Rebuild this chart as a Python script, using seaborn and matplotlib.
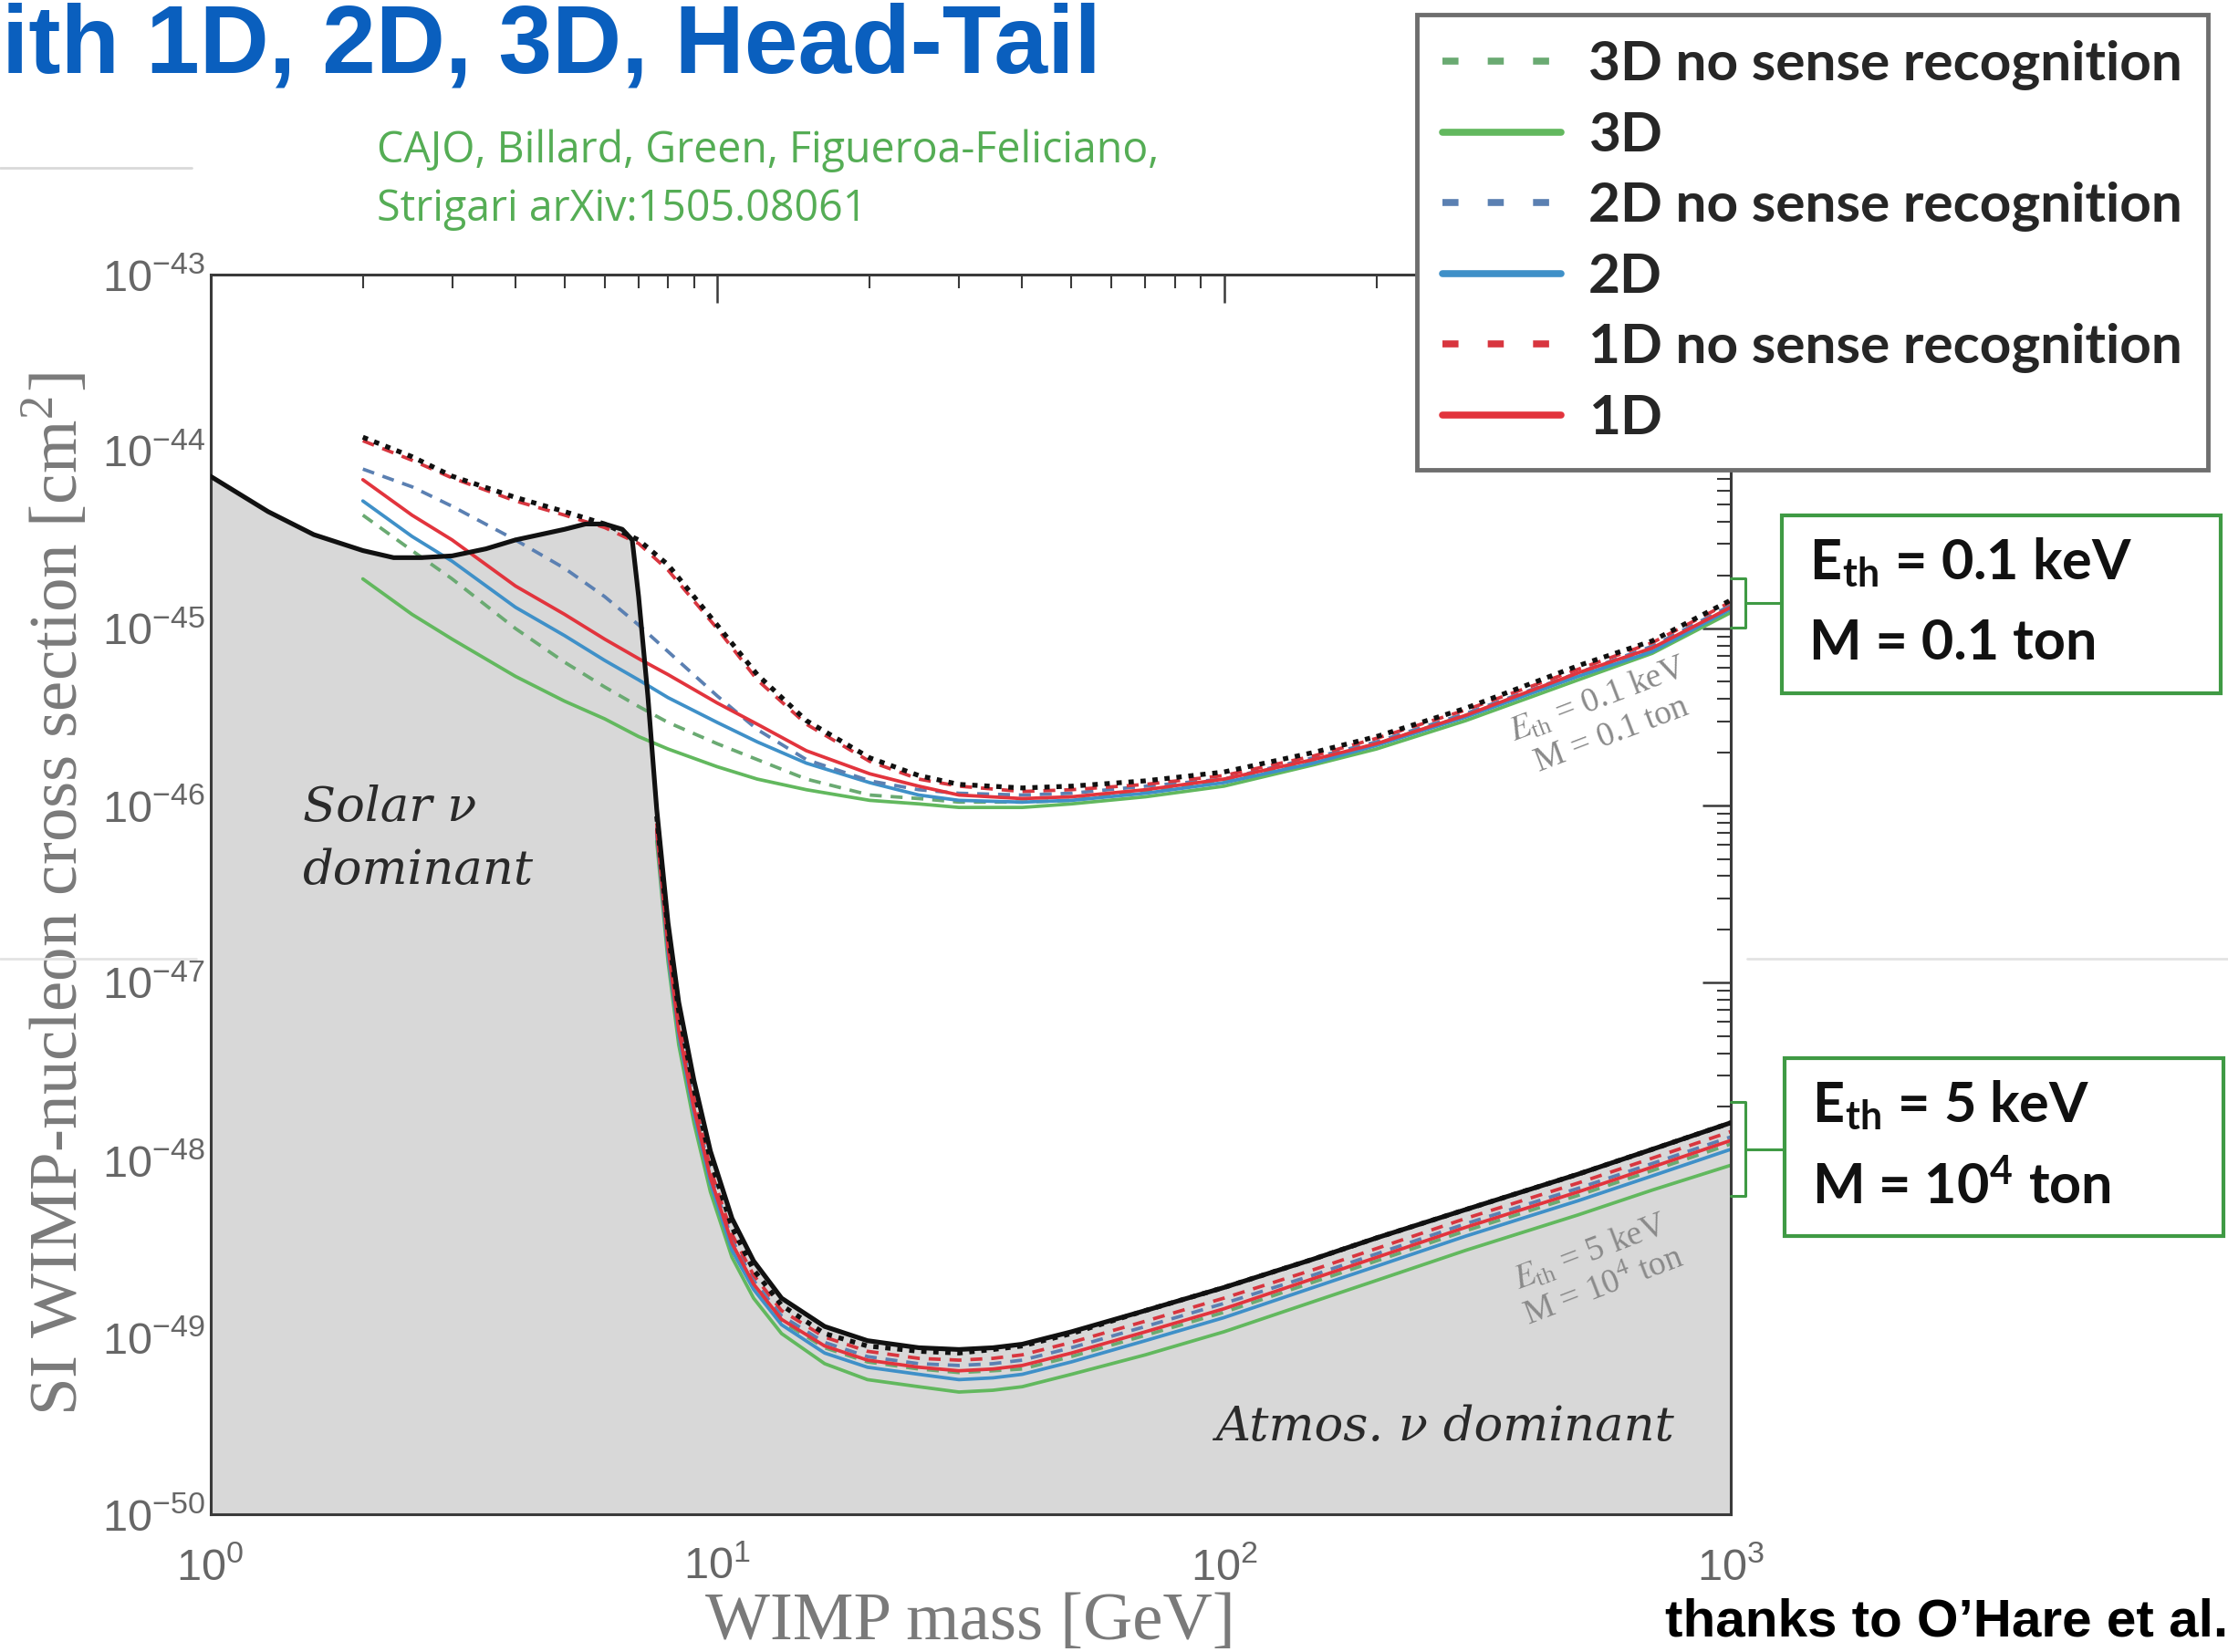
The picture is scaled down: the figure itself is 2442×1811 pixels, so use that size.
import numpy as np
import matplotlib
matplotlib.use("Agg")
import matplotlib.pyplot as plt
import seaborn as sns
from matplotlib.lines import Line2D
from matplotlib.patches import Rectangle
from matplotlib.ticker import FixedLocator, LogLocator, NullFormatter

# ---- data (mass in GeV, log10 of cross section in cm^2) ----
mass_up = [2, 2.5, 3, 4, 5, 6, 7, 8, 10, 12, 15, 20, 25, 30, 40, 50, 70, 100, 150, 200, 300, 500, 700, 1000]
mass_lo = [7.6, 8, 8.4, 9, 9.7, 10.7, 11.8, 13.4, 16.3, 19.8, 25, 30, 35, 40, 50, 70, 100, 150, 200, 300, 500, 700, 1000]
mass_floor = [1, 1.3, 1.6, 2, 2.3, 2.6, 3, 3.5, 4, 5, 5.5, 6, 6.5, 6.8, 7, 7.3, 7.6, 8, 8.4, 9, 9.7, 10.7,
              11.8, 13.4, 16.3, 19.8, 25, 30, 35, 40, 50, 70, 100, 150, 200, 300, 500, 700, 1000]

# neutrino floor (black solid, grey shading below it)
floor = [-44.14, -44.34, -44.47, -44.56, -44.60, -44.60, -44.59, -44.55, -44.50, -44.44, -44.41, -44.41,
         -44.44, -44.50, -44.82, -45.38, -46.02, -46.66, -47.11, -47.55, -47.95, -48.33, -48.57, -48.78,
         -48.94, -49.02, -49.06, -49.07, -49.06, -49.04, -48.97, -48.85, -48.72, -48.56, -48.44, -48.28,
         -48.08, -47.94, -47.79]

# E_th = 0.1 keV, M = 0.1 ton
nondir_up = [-43.92, -44.03, -44.14, -44.26, -44.34, -44.41, -44.50, -44.64, -44.98, -45.26, -45.52, -45.73,
             -45.83, -45.88, -45.90, -45.89, -45.86, -45.81, -45.70, -45.61, -45.45, -45.21, -45.07, -44.84]
d1_nsr_up = [-43.94, -44.05, -44.15, -44.28, -44.36, -44.43, -44.52, -44.67, -45.00, -45.29, -45.54, -45.75,
             -45.85, -45.89, -45.92, -45.91, -45.88, -45.83, -45.72, -45.62, -45.46, -45.23, -45.08, -44.85]
d2_nsr_up = [-44.10, -44.20, -44.31, -44.50, -44.66, -44.82, -44.98, -45.13, -45.38, -45.57, -45.74, -45.86,
             -45.91, -45.93, -45.94, -45.93, -45.89, -45.85, -45.73, -45.64, -45.48, -45.25, -45.10, -44.87]
d3_nsr_up = [-44.36, -44.56, -44.72, -45.00, -45.19, -45.33, -45.44, -45.53, -45.65, -45.74, -45.85, -45.94,
             -45.96, -45.98, -45.98, -45.97, -45.92, -45.86, -45.75, -45.65, -45.49, -45.26, -45.12, -44.88]
d1_up = [-44.16, -44.36, -44.50, -44.76, -44.92, -45.06, -45.17, -45.26, -45.42, -45.54, -45.69, -45.82,
         -45.89, -45.94, -45.96, -45.95, -45.91, -45.85, -45.74, -45.65, -45.49, -45.25, -45.11, -44.88]
d2_up = [-44.28, -44.48, -44.62, -44.88, -45.04, -45.18, -45.29, -45.39, -45.53, -45.64, -45.76, -45.87,
         -45.94, -45.97, -45.98, -45.97, -45.93, -45.87, -45.76, -45.66, -45.50, -45.27, -45.13, -44.89]
d3_up = [-44.72, -44.92, -45.06, -45.27, -45.41, -45.51, -45.61, -45.68, -45.78, -45.85, -45.91, -45.97,
         -45.99, -46.01, -46.01, -45.99, -45.95, -45.89, -45.77, -45.68, -45.52, -45.29, -45.14, -44.91]

# E_th = 5 keV, M = 10^4 ton
nondir_lo = [-46.06, -46.71, -47.16, -47.60, -48.00, -48.38, -48.62, -48.82, -48.98, -49.05, -49.08, -49.09,
             -49.07, -49.05, -48.98, -48.85, -48.72, -48.56, -48.44, -48.28, -48.08, -47.94, -47.79]
d1_nsr_lo = [-46.10, -46.76, -47.21, -47.65, -48.05, -48.42, -48.65, -48.85, -49.00, -49.08, -49.12, -49.13,
             -49.12, -49.10, -49.03, -48.91, -48.78, -48.62, -48.50, -48.33, -48.13, -47.99, -47.84]
d1_lo = [-46.14, -46.80, -47.27, -47.71, -48.10, -48.47, -48.70, -48.90, -49.05, -49.13, -49.17, -49.19,
         -49.18, -49.16, -49.09, -48.97, -48.84, -48.67, -48.55, -48.38, -48.18, -48.04, -47.89]
d2_nsr_lo = [-46.12, -46.78, -47.24, -47.68, -48.08, -48.45, -48.68, -48.88, -49.03, -49.11, -49.15, -49.16,
             -49.15, -49.13, -49.06, -48.94, -48.81, -48.65, -48.53, -48.36, -48.16, -48.02, -47.87]
d2_lo = [-46.16, -46.84, -47.30, -47.74, -48.13, -48.51, -48.73, -48.93, -49.09, -49.17, -49.21, -49.24,
         -49.23, -49.21, -49.14, -49.02, -48.89, -48.72, -48.60, -48.43, -48.23, -48.09, -47.94]
d3_nsr_lo = [-46.15, -46.81, -47.27, -47.71, -48.11, -48.48, -48.71, -48.91, -49.06, -49.14, -49.18, -49.20,
             -49.19, -49.18, -49.11, -48.99, -48.86, -48.69, -48.57, -48.40, -48.20, -48.06, -47.91]
d3_lo = [-46.20, -46.88, -47.35, -47.79, -48.18, -48.55, -48.78, -48.98, -49.15, -49.24, -49.28, -49.31,
         -49.30, -49.28, -49.21, -49.10, -48.97, -48.80, -48.68, -48.51, -48.31, -48.17, -48.03]

x_ticks = [1, 10, 100, 1000]
y_ticks = [1e-50, 1e-49, 1e-48, 1e-47, 1e-46, 1e-45, 1e-44, 1e-43]
legend_labels = ["3D no sense recognition", "3D", "2D no sense recognition", "2D",
                 "1D no sense recognition", "1D"]

# colours / styles
GREEN_D, GREEN = "#6aaa72", "#62b85e"
BLUE_D, BLUE = "#5b80b2", "#3f90c8"
RED_D, RED = "#d8363f", "#e2343d"
BOX_GREEN = "#3f9a44"
DASH = (0, (3.5, 2.6))
LEG_DASH = (0, (2.3, 4.2))

W, H = 2442, 1811
sns.set_style("white")
plt.rcParams["font.family"] = ["Liberation Sans", "DejaVu Sans"]
plt.rcParams["mathtext.fontset"] = "stix"

fig = plt.figure(figsize=(W / 100, H / 100), dpi=100)
ax = fig.add_axes([230.5 / W, 1 - 1660 / H, (1897 - 230.5) / W, (1660 - 300.6) / H])
ax.set_xscale("log")
ax.set_yscale("log")


def sig(v):
    return np.power(10.0, v)


# grey region under the neutrino floor
ax.fill_between(mass_floor, sig(floor), 1e-50, color="#d8d8d8", lw=0, zorder=1)

series = [
    (mass_up, d3_up, GREEN, "-"), (mass_up, d3_nsr_up, GREEN_D, DASH),
    (mass_up, d2_up, BLUE, "-"), (mass_up, d2_nsr_up, BLUE_D, DASH),
    (mass_up, d1_up, RED, "-"), (mass_up, d1_nsr_up, RED_D, DASH),
    (mass_lo, d3_lo, GREEN, "-"), (mass_lo, d3_nsr_lo, GREEN_D, DASH),
    (mass_lo, d2_lo, BLUE, "-"), (mass_lo, d2_nsr_lo, BLUE_D, DASH),
    (mass_lo, d1_lo, RED, "-"), (mass_lo, d1_nsr_lo, RED_D, DASH),
]
for m, v, c, ls in series:
    sns.lineplot(x=m, y=sig(v), ax=ax, color=c, linestyle=ls, lw=2.7, zorder=2)

for m, v in [(mass_up, nondir_up), (mass_lo, nondir_lo)]:
    sns.lineplot(x=m, y=sig(v), ax=ax, color="#111111", linestyle=(0, (1.1, 1.4)),
                 lw=3.8, zorder=3)
sns.lineplot(x=mass_floor, y=sig(floor), ax=ax, color="#111111", lw=3.7, zorder=4)

ax.set_xlim(1, 1000)
ax.set_ylim(1e-50, 1e-43)

# ticks, spines
ax.xaxis.set_major_locator(FixedLocator(x_ticks))
ax.xaxis.set_minor_locator(LogLocator(base=10, subs=np.arange(2, 10), numticks=20))
ax.yaxis.set_major_locator(FixedLocator(y_ticks))
ax.yaxis.set_minor_locator(LogLocator(base=10, subs=np.arange(2, 10), numticks=40))
ax.xaxis.set_minor_formatter(NullFormatter())
ax.yaxis.set_minor_formatter(NullFormatter())
ax.tick_params(which="both", direction="in", top=True, right=True, color="#3a3a3a",
               labelcolor="#666666", labelsize=35)
ax.tick_params(which="major", length=22, width=1.8)
ax.tick_params(which="minor", length=11, width=1.5)
ax.tick_params(axis="x", which="major", pad=26)
ax.tick_params(axis="y", which="major", pad=4)
for sp in ax.spines.values():
    sp.set_linewidth(2.2)
    sp.set_color("#3a3a3a")

ax.set_xlabel("WIMP mass [GeV]", family="Liberation Serif", size=54, color="#7a7a7a")
ax.set_ylabel("SI WIMP-nucleon cross section [cm$^{\\mathdefault{2}}$]",
              family="Liberation Serif", size=54, color="#7a7a7a")
ax.xaxis.set_label_coords(0.5, -0.063)
ax.yaxis.set_label_coords(-0.078, 0.5)

# in-plot annotations
ax.text(1.52, sig(-46.19), "Solar \u03bd\ndominant", family="DejaVu Serif", style="italic",
        size=38, color="#2a2a2a", ha="left", va="center", linespacing=1.45, zorder=5)
ax.text(772, sig(-49.51), "Atmos. \u03bd dominant", family="DejaVu Serif", style="italic",
        size=38, color="#2a2a2a", ha="right", va="center", zorder=5)
ax.text(565, sig(-45.50), "$E_{\\mathdefault{th}}$ = 0.1 keV\nM = 0.1 ton",
        family="Liberation Serif", size=27, color="#8a8a8a", rotation=21,
        ha="center", va="center", rotation_mode="anchor", zorder=5)
ax.text(545, sig(-48.62), "$E_{\\mathdefault{th}}$ = 5 keV\nM = 10$^{\\mathdefault{4}}$ ton",
        family="Liberation Serif", size=27, color="#8a8a8a", rotation=21,
        ha="center", va="center", rotation_mode="anchor", zorder=5)

# legend
handles = [
    Line2D([], [], color=GREEN_D, lw=5.5, ls=LEG_DASH),
    Line2D([], [], color=GREEN, lw=5.5),
    Line2D([], [], color=BLUE_D, lw=5.5, ls=LEG_DASH),
    Line2D([], [], color=BLUE, lw=5.5),
    Line2D([], [], color=RED_D, lw=5.5, ls=LEG_DASH),
    Line2D([], [], color=RED, lw=5.5),
]
leg = fig.legend(handles, legend_labels, loc="upper left", bbox_to_anchor=(1553 / W, 1 - 16 / H),
                 borderaxespad=0, frameon=True, fancybox=False, framealpha=1,
                 edgecolor="#6e6e6e", handlelength=2.14, handletextpad=0.5,
                 borderpad=0.47, labelspacing=0.38,
                 prop=dict(family="Lato", weight="bold", size=43.5))
leg.get_frame().set_linewidth(3.5)


def fx(px):
    return px / W


def fy(py):
    return 1 - py / H


# parameter boxes on the right with small brackets to the curve ends
for (bx0, by0, bx1, by1), (k0, k1, kc), lines in [
    ((1953, 565, 2434, 760), (634, 688, 661), ("E$_{\\mathdefault{th}}$ = 0.1 keV", "M = 0.1 ton")),
    ((1956, 1160, 2437, 1355), (1208, 1311, 1260),
     ("E$_{\\mathdefault{th}}$ = 5 keV", "M = 10$^{\\mathdefault{4}}$ ton")),
]:
    fig.add_artist(Rectangle((fx(bx0), fy(by1)), fx(bx1) - fx(bx0), fy(by0) - fy(by1),
                             transform=fig.transFigure, fc="white", ec=BOX_GREEN, lw=3))
    fig.add_artist(Line2D([fx(1897), fx(1913), fx(1913), fx(1897)], [fy(k0), fy(k0), fy(k1), fy(k1)],
                          transform=fig.transFigure, color=BOX_GREEN, lw=2.2))
    fig.add_artist(Line2D([fx(1913), fx(bx0)], [fy(kc), fy(kc)],
                          transform=fig.transFigure, color=BOX_GREEN, lw=2.2))
    fig.text(fx(bx0 + 30), fy(by0 + 52), lines[0], family="Lato", weight="bold", size=44,
             color="#111111", va="center", ha="left")
    fig.text(fx(bx0 + 30), fy(by0 + 140), lines[1], family="Lato", weight="bold", size=44,
             color="#111111", va="center", ha="left")

# slide decorations
fig.text(0.001, fy(80), "ith 1D, 2D, 3D, Head-Tail", family="Liberation Sans", weight="bold",
         size=76, color="#0a5fbe", ha="left", va="baseline")
fig.text(fx(413), fy(197), "CAJO, Billard, Green, Figueroa-Feliciano,\nStrigari arXiv:1505.08061",
         family="Open Sans", size=33.5, color="#55ad55", ha="left", va="center", linespacing=1.45)
fig.text(fx(1825), fy(1778), "thanks to O\u2019Hare et al.", family="Liberation Sans",
         weight="bold", size=42, color="#000000", ha="left", va="center")
fig.add_artist(Line2D([0, fx(210)], [fy(184), fy(184)], transform=fig.transFigure,
                      color="#d9d9d9", lw=2))
fig.add_artist(Line2D([0, fx(215)], [fy(1051), fy(1051)], transform=fig.transFigure,
                      color="#e3e3e3", lw=2))
fig.add_artist(Line2D([fx(1915), 1], [fy(1051), fy(1051)], transform=fig.transFigure,
                      color="#e3e3e3", lw=2))

fig.savefig("out.png", dpi=100)
